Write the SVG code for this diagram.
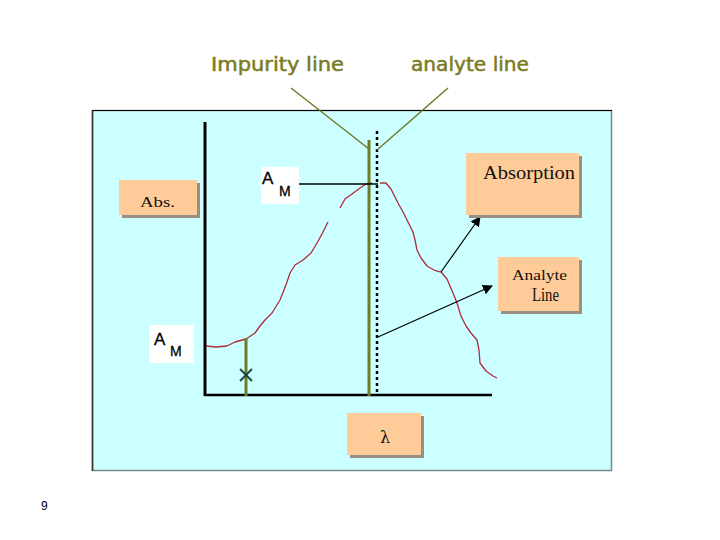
<svg xmlns="http://www.w3.org/2000/svg" width="720" height="540" viewBox="0 0 720 540">
<defs>
<style>
.lbl{font-family:"DejaVu Sans","Verdana",sans-serif;font-size:19px;fill:#7b7b1f;stroke:#7b7b1f;stroke-width:0.5}
.box{fill:#ffcc99}
.shd{fill:#9a8f80}
.ser{font-family:"Liberation Serif","Times New Roman",serif;fill:#111}
.am{font-family:"Liberation Sans",Arial,sans-serif;fill:#000;stroke:#000;stroke-width:0.3}
.ol{stroke:#6e7c26;fill:none}
.cur{stroke:#b02a3a;stroke-width:1.3;fill:none;stroke-linejoin:round}
.pg{font-family:"Liberation Sans",Arial,sans-serif;font-size:12px;fill:#000}
</style>
<marker id="ah" viewBox="0 0 10 10" refX="9" refY="5" markerWidth="10" markerHeight="10" markerUnits="userSpaceOnUse" orient="auto">
<path d="M0,0 L10,5 L0,10 Z" fill="#000"/>
</marker>
</defs>
<rect width="720" height="540" fill="#fff"/>
<g id="panel">
<rect x="92.5" y="110.5" width="519" height="360" fill="#ccffff" stroke="#7a8a8a" stroke-width="1.5"/>
<line x1="92" y1="110.5" x2="612" y2="110.5" stroke="#000" stroke-width="1"/>
<line x1="92.5" y1="110" x2="92.5" y2="471" stroke="#333" stroke-width="1.5"/>
</g>
<g id="axes">
<line x1="205" y1="122" x2="205" y2="396" stroke="#000" stroke-width="3"/>
<line x1="204" y1="395" x2="492" y2="395" stroke="#000" stroke-width="2.5"/>
</g>
<g id="curve">
<polyline class="cur" points="206,346 216,347 227,346 235,342 246,339 255,333 260,326 265,320 272,313 280,300 284,290 287,282 290,273 295,265 303,260 311,253 317,243 322,234 328,222"/>
<polyline class="cur" points="340,208 345,199 352,194 360,188 366,184 372,183"/>
<polyline class="cur" points="380,183 386,183 391,189 398,203 403,212 408,222 413,232 415,240 417,250 421,258 427,266 434,270 441,272 447,279 453,293 457,303 461,316 466,326 471,333 477,340 479,350 480,363 486,371 493,376 497,378"/>
</g>
<g id="analyte-lines">
<line class="ol" x1="369" y1="140" x2="369" y2="396" stroke-width="3"/>
<line x1="377" y1="131" x2="377" y2="395" stroke="#000" stroke-width="2.5" stroke-dasharray="3,3"/>
<line class="ol" x1="246" y1="338" x2="246" y2="396" stroke-width="3"/>
</g>
<g id="xmark" stroke="#1d4848" stroke-width="2">
<line x1="240" y1="369" x2="252" y2="381"/>
<line x1="252" y1="369" x2="240" y2="381"/>
</g>
<g id="connectors">
<line class="ol" x1="291" y1="88" x2="369" y2="149" stroke-width="1.5"/>
<line class="ol" x1="448" y1="88" x2="377" y2="150" stroke-width="1.5"/>
<line x1="299" y1="184" x2="378" y2="184" stroke="#000" stroke-width="1.5"/>
<line x1="441" y1="272" x2="480" y2="217" stroke="#000" stroke-width="1.2" marker-end="url(#ah)"/>
<line x1="378" y1="337" x2="492" y2="286" stroke="#000" stroke-width="1.2" marker-end="url(#ah)"/>
</g>
<g id="impurity-label">
<text class="lbl" x="211" y="71" textLength="133" lengthAdjust="spacingAndGlyphs">Impurity line</text>
</g>
<g id="analyte-label">
<text class="lbl" x="411" y="71" textLength="118" lengthAdjust="spacingAndGlyphs">analyte line</text>
</g>
<g id="abs">
<rect class="shd" x="122" y="183" width="78" height="35"/>
<rect class="box" x="119" y="180" width="78" height="35"/>
<text class="ser" x="140" y="207" font-size="15" textLength="35" lengthAdjust="spacingAndGlyphs">Abs.</text>
</g>
<g id="absorption">
<rect class="shd" x="469" y="156" width="113" height="62"/>
<rect class="box" x="466" y="153" width="113" height="62"/>
<text class="ser" x="483" y="179" font-size="18" textLength="92" lengthAdjust="spacingAndGlyphs">Absorption</text>
</g>
<g id="analyte-line-box">
<rect class="shd" x="501" y="260" width="81" height="54"/>
<rect class="box" x="498" y="257" width="81" height="54"/>
<text class="ser" x="512" y="280" font-size="15" textLength="55" lengthAdjust="spacingAndGlyphs">Analyte</text>
<text class="ser" x="532" y="301" font-size="18" textLength="27" lengthAdjust="spacingAndGlyphs">Line</text>
</g>
<g id="lambda">
<rect class="shd" x="350" y="416" width="74" height="42"/>
<rect class="box" x="347" y="413" width="74" height="42"/>
<text x="385" y="443" font-family="'DejaVu Serif',serif" font-size="16" fill="#111" text-anchor="middle">λ</text>
</g>
<g id="am-top">
<rect x="261" y="167" width="38" height="37" fill="#fff"/>
<text class="am" x="262" y="183.5" font-size="17">A</text>
<text class="am" x="279" y="195.5" font-size="14">M</text>
</g>
<g id="am-bottom">
<rect x="149" y="325" width="45" height="38" fill="#fff"/>
<text class="am" x="154" y="344.5" font-size="17">A</text>
<text class="am" x="170" y="355.5" font-size="14">M</text>
</g>
<g id="page">
<text class="pg" x="41" y="510">9</text>
</g>
</svg>
